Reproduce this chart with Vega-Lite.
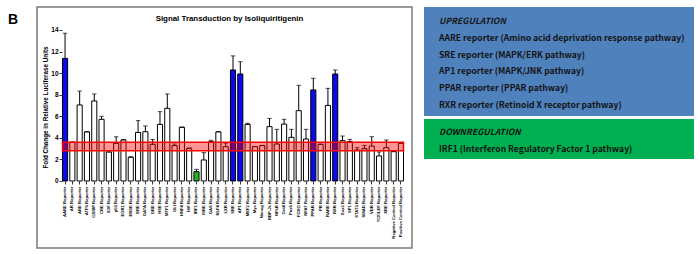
{
  "$schema": "https://vega.github.io/schema/vega-lite/v6.json",
  "padding": {"left": 8, "top": 6, "right": 0, "bottom": 0},
  "background": "white",
  "title": {"text": "B", "orient": "left", "anchor": "end", "angle": 0, "baseline": "top", "fontSize": 14, "font": "Liberation Sans", "fontWeight": "bold", "color": "black", "offset": 8, "dy": 7},
  "config": {"font": "Liberation Sans", "concat": {"spacing": 11}},
  "datasets": {
    "bars": [
      {"name": "AARE Reporter", "value": 11.37, "err": 13.7, "reg": "up"},
      {"name": "AR Reporter", "value": 3.58, "err": 3.63, "reg": "none"},
      {"name": "ARE Reporter", "value": 7.05, "err": 8.34, "reg": "none"},
      {"name": "ATF6 Reporter", "value": 4.55, "err": 4.57, "reg": "none"},
      {"name": "C/EBP Reporter", "value": 7.42, "err": 8.07, "reg": "none"},
      {"name": "CRE Reporter", "value": 5.72, "err": 6.0, "reg": "none"},
      {"name": "E2F Reporter", "value": 2.69, "err": 2.7, "reg": "none"},
      {"name": "p53 Reporter", "value": 3.49, "err": 4.1, "reg": "none"},
      {"name": "EGR1 Reporter", "value": 3.8, "err": 3.85, "reg": "none"},
      {"name": "ERSE Reporter", "value": 2.2, "err": 2.25, "reg": "none"},
      {"name": "ERE Reporter", "value": 4.5, "err": 5.6, "reg": "none"},
      {"name": "GATA Reporter", "value": 4.57, "err": 5.1, "reg": "none"},
      {"name": "GRE Reporter", "value": 3.4, "err": 3.85, "reg": "none"},
      {"name": "HSE Reporter", "value": 5.25, "err": 6.43, "reg": "none"},
      {"name": "MTF1 Reporter", "value": 6.74, "err": 8.07, "reg": "none"},
      {"name": "GLI Reporter", "value": 3.28, "err": 3.43, "reg": "none"},
      {"name": "HNF4 Reporter", "value": 4.98, "err": 5.0, "reg": "none"},
      {"name": "HIF Reporter", "value": 3.03, "err": 3.05, "reg": "none"},
      {"name": "IRF1 Reporter", "value": 0.87, "err": 1.08, "reg": "down"},
      {"name": "ISRE Reporter", "value": 1.95, "err": 2.63, "reg": "none"},
      {"name": "GAS Reporter", "value": 3.65, "err": 3.77, "reg": "none"},
      {"name": "KLF4 Reporter", "value": 4.55, "err": 4.58, "reg": "none"},
      {"name": "LXR Reporter", "value": 3.18, "err": 3.5, "reg": "none"},
      {"name": "SRE Reporter", "value": 10.29, "err": 11.6, "reg": "up"},
      {"name": "AP1 Reporter", "value": 9.92, "err": 11.06, "reg": "up"},
      {"name": "MEF2 Reporter", "value": 5.25, "err": 5.35, "reg": "none"},
      {"name": "Myc Reporter", "value": 3.18, "err": 3.2, "reg": "none"},
      {"name": "Nanog Reporter", "value": 3.28, "err": 3.3, "reg": "none"},
      {"name": "RBP-Jk Reporter", "value": 5.04, "err": 5.8, "reg": "none"},
      {"name": "NFkB Reporter", "value": 3.43, "err": 4.79, "reg": "none"},
      {"name": "Oct4 Reporter", "value": 5.28, "err": 5.72, "reg": "none"},
      {"name": "Pax6 Reporter", "value": 4.05, "err": 4.79, "reg": "none"},
      {"name": "FOXO Reporter", "value": 6.52, "err": 8.87, "reg": "none"},
      {"name": "NFAT Reporter", "value": 3.89, "err": 4.79, "reg": "none"},
      {"name": "PPAR Reporter", "value": 8.44, "err": 9.52, "reg": "up"},
      {"name": "PR Reporter", "value": 3.4, "err": 3.42, "reg": "none"},
      {"name": "RARE Reporter", "value": 7.01, "err": 8.59, "reg": "none"},
      {"name": "RXR Reporter", "value": 9.92, "err": 10.29, "reg": "up"},
      {"name": "Sox2 Reporter", "value": 3.74, "err": 4.17, "reg": "none"},
      {"name": "SP1 Reporter", "value": 3.65, "err": 3.86, "reg": "none"},
      {"name": "STAT3 Reporter", "value": 2.87, "err": 3.09, "reg": "none"},
      {"name": "SMAD Reporter", "value": 3.0, "err": 3.3, "reg": "none"},
      {"name": "VDR Reporter", "value": 3.24, "err": 4.11, "reg": "none"},
      {"name": "TCF/LEF Reporter", "value": 2.32, "err": 2.69, "reg": "none"},
      {"name": "XRE Reporter", "value": 3.09, "err": 3.8, "reg": "none"},
      {"name": "Negative Control Reporter", "value": 2.72, "err": 2.74, "reg": "none"},
      {"name": "Positive Control Reporter", "value": 3.49, "err": 3.51, "reg": "none"}
    ],
    "band": [{"lo": 2.8, "hi": 3.6, "first": "AARE Reporter", "last": "Positive Control Reporter", "top": 14}],
    "up": [
      {"line": "UPREGULATION", "kind": "head"},
      {"line": "AARE reporter (Amino acid deprivation response pathway)", "kind": "item"},
      {"line": "SRE reporter (MAPK/ERK pathway)", "kind": "item"},
      {"line": "AP1 reporter (MAPK/JNK pathway)", "kind": "item"},
      {"line": "PPAR reporter (PPAR pathway)", "kind": "item"},
      {"line": "RXR reporter (Retinoid X receptor pathway)", "kind": "item"}
    ],
    "down": [
      {"line": "DOWNREGULATION", "kind": "head"},
      {"line": "IRF1 (Interferon Regulatory Factor 1 pathway)", "kind": "item"}
    ]
  },
  "hconcat": [
    {
      "width": 375,
      "height": 241,
      "view": {"stroke": "#7a7a7a", "strokeWidth": 1.5, "fill": "white"},
      "title": {"text": "Signal Transduction by Isoliquiritigenin", "fontSize": 7.9, "fontWeight": "bold", "color": "black", "offset": -16, "dx": 5},
      "data": {"name": "bars"},
      "encoding": {
        "x": {"field": "name", "type": "nominal", "sort": null,
          "scale": {"domain": ["AARE Reporter","AR Reporter","ARE Reporter","ATF6 Reporter","C/EBP Reporter","CRE Reporter","E2F Reporter","p53 Reporter","EGR1 Reporter","ERSE Reporter","ERE Reporter","GATA Reporter","GRE Reporter","HSE Reporter","MTF1 Reporter","GLI Reporter","HNF4 Reporter","HIF Reporter","IRF1 Reporter","ISRE Reporter","GAS Reporter","KLF4 Reporter","LXR Reporter","SRE Reporter","AP1 Reporter","MEF2 Reporter","Myc Reporter","Nanog Reporter","RBP-Jk Reporter","NFkB Reporter","Oct4 Reporter","Pax6 Reporter","FOXO Reporter","NFAT Reporter","PPAR Reporter","PR Reporter","RARE Reporter","RXR Reporter","Sox2 Reporter","SP1 Reporter","STAT3 Reporter","SMAD Reporter","VDR Reporter","TCF/LEF Reporter","XRE Reporter","Negative Control Reporter","Positive Control Reporter"],
            "range": [25.5, 366.5], "paddingInner": 0.3, "paddingOuter": 0},
          "axis": {"orient": "bottom", "offset": -67, "domain": false, "grid": false, "title": null, "labelAngle": 270, "labelFontSize": 4.2, "labelFontWeight": "bold", "labelColor": "black", "labelPadding": 2, "tickColor": "black", "tickSize": 3, "tickWidth": 0.8}
        },
        "y": {"field": "value", "type": "quantitative",
          "scale": {"domain": [-6.212, 16.132], "nice": false, "zero": false},
          "axis": {"values": [0, 2, 4, 6, 8, 10, 12, 14], "offset": -25, "domain": false, "grid": false, "tickColor": "black", "tickSize": 3, "tickWidth": 0.8, "labelFontSize": 6.5, "labelFontWeight": "bold", "labelColor": "black", "labelPadding": 1, "title": "Fold Change in Relative Luciferase Units", "titleFontSize": 6.3, "titleFontWeight": "bold", "titleColor": "black", "titlePadding": 2, "titleY": 100}
        }
      },
      "layer": [
        {
          "mark": {"type": "bar", "stroke": "black", "strokeWidth": 1},
          "encoding": {
            "y2": {"datum": 0},
            "color": {"field": "reg", "type": "nominal", "scale": {"domain": ["none", "up", "down"], "range": ["white", "#0a0aee", "#1fb51f"]}, "legend": null}
          }
        },
        {
          "mark": {"type": "rule", "color": "black", "strokeWidth": 1},
          "encoding": {"y2": {"field": "err"}}
        },
        {
          "mark": {"type": "tick", "color": "black", "size": 4.5, "thickness": 1},
          "encoding": {"y": {"field": "err", "type": "quantitative"}}
        },
        {
          "data": {"name": "band"},
          "mark": {"type": "rect", "fill": "#ff0000", "fillOpacity": 0.42, "stroke": "#ff0000", "strokeWidth": 1.5},
          "encoding": {
            "x": {"field": "first", "type": "nominal", "bandPosition": 0},
            "x2": {"field": "last", "bandPosition": 1},
            "y": {"field": "lo", "type": "quantitative"},
            "y2": {"field": "hi"}
          }
        },
        {
          "data": {"name": "band"},
          "mark": {"type": "rule", "color": "black", "strokeWidth": 1},
          "encoding": {
            "x": {"field": "first", "type": "nominal", "bandPosition": 0},
            "x2": {"field": "last", "bandPosition": 1},
            "y": {"datum": 0}
          }
        },
        {
          "data": {"name": "band"},
          "mark": {"type": "rule", "color": "black", "strokeWidth": 1},
          "encoding": {
            "x": {"field": "first", "type": "nominal", "bandPosition": 0},
            "y": {"datum": 0},
            "y2": {"field": "top"}
          }
        }
      ]
    },
    {
      "spacing": 3,
      "vconcat": [
        {
          "width": 270,
          "height": 109,
          "view": {"fill": "#4f81bd", "stroke": null},
          "data": {"name": "up"},
          "encoding": {
            "y": {"field": "line", "type": "nominal", "sort": null, "scale": {"type": "point", "padding": 0.744, "align": 0.56}, "axis": null},
            "x": {"value": 15},
            "text": {"field": "line"}
          },
          "layer": [
            {"transform": [{"filter": "datum.kind == 'head'"}], "mark": {"type": "text", "align": "left", "font": "Noto Sans CJK KR", "fontSize": 8.6, "fontWeight": "bold", "fontStyle": "italic", "color": "#141414"}},
            {"transform": [{"filter": "datum.kind == 'item'"}], "mark": {"type": "text", "align": "left", "font": "Noto Sans CJK KR", "fontSize": 8.6, "fontWeight": "bold", "color": "#141414"}}
          ]
        },
        {
          "width": 270,
          "height": 40,
          "view": {"fill": "#00b050", "stroke": null},
          "data": {"name": "down"},
          "encoding": {
            "y": {"field": "line", "type": "nominal", "sort": null, "scale": {"type": "point", "padding": 0.676, "align": 0.565}, "axis": null},
            "x": {"value": 15},
            "text": {"field": "line"}
          },
          "layer": [
            {"transform": [{"filter": "datum.kind == 'head'"}], "mark": {"type": "text", "align": "left", "font": "Noto Sans CJK KR", "fontSize": 8.6, "fontWeight": "bold", "fontStyle": "italic", "color": "#141414"}},
            {"transform": [{"filter": "datum.kind == 'item'"}], "mark": {"type": "text", "align": "left", "font": "Noto Sans CJK KR", "fontSize": 8.6, "fontWeight": "bold", "color": "#141414"}}
          ]
        }
      ]
    }
  ]
}
